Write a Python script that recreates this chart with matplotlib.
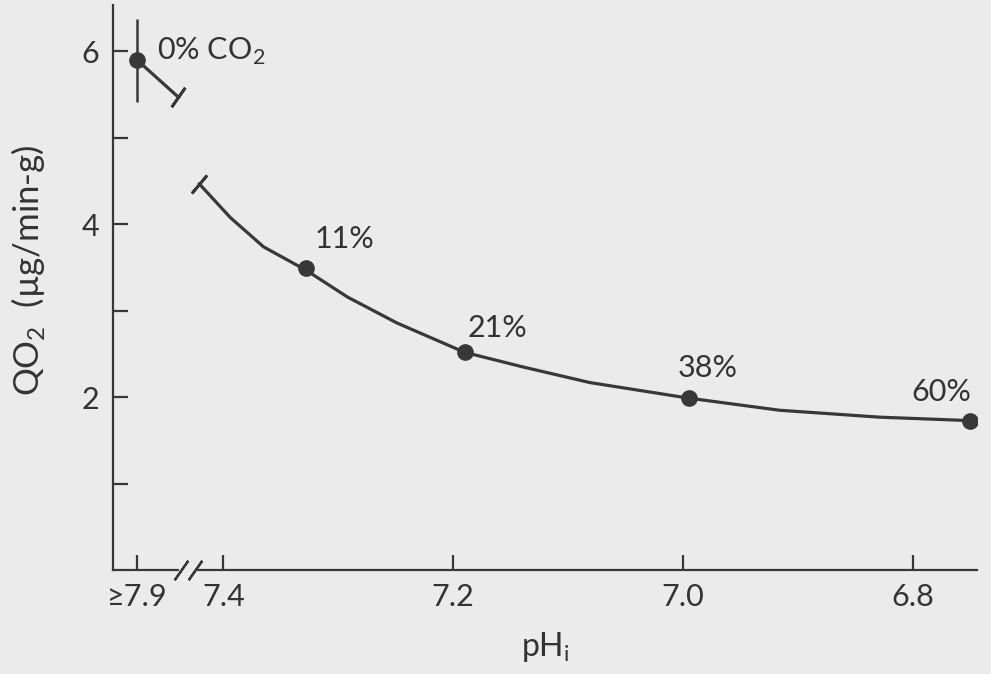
import matplotlib
matplotlib.use("Agg")
import matplotlib.pyplot as plt

# ------------------------------
# Data: QO2 vs internal pH at different CO2 levels
# ------------------------------
co2_labels = ["0% CO$_\\mathregular{2}$", "11%", "21%", "38%", "60%"]
ph_pos = [7.475, 7.328, 7.19, 6.995, 6.75]     # first one sits at the ">=7.9" slot
qo2 = [5.90, 3.49, 2.52, 1.99, 1.73]
qo2_err = 0.48                                   # error bar on the 0% point

# hand-drawn trend curve
curve_ph = [7.421, 7.394, 7.365, 7.328, 7.292, 7.249, 7.190,
            7.139, 7.081, 6.995, 6.916, 6.829, 6.750]
curve_qo2 = [4.47, 4.08, 3.74, 3.47, 3.16, 2.86, 2.52,
             2.35, 2.17, 1.99, 1.85, 1.77, 1.73]

# short stub leaving the 0% point before the break
stub_ph = [7.475, 7.439]
stub_qo2 = [5.90, 5.47]

xtick_pos = [7.475, 7.4, 7.2, 7.0, 6.8]
xtick_labels = ["\u22657.9", "7.4", "7.2", "7.0", "6.8"]
ytick_pos = [1, 2, 3, 4, 5, 6]
ytick_labels = ["", "2", "", "4", "", "6"]

# label offsets (points) from each dot
label_offsets = [(14, 0), (6.5, 15), (2, 11), (-8, 15), (-42.5, 14.4)]

# ------------------------------
# Style
# ------------------------------
BG = "#ebebeb"
INK = "#383838"
TXT = "#333333"
plt.rcParams["font.family"] = ["Lato", "DejaVu Sans"]
plt.rcParams["mathtext.fontset"] = "custom"
plt.rcParams["mathtext.rm"] = "Lato"

fig = plt.figure(figsize=(9.91, 6.74), dpi=100, facecolor=BG)
ax = fig.add_axes([0.114, 0.154, 0.872, 0.839], facecolor=BG)

# curve + stub
ax.plot(curve_ph, curve_qo2, color=INK, lw=2.3, solid_capstyle="round",
        solid_joinstyle="round")
ax.plot(stub_ph, stub_qo2, color=INK, lw=2.3)

# break caps at both loose ends
ax.plot(stub_ph[-1], stub_qo2[-1], marker=(2, 2, -35), ms=17, mew=2.0,
        color=INK, linestyle="none")
ax.plot(curve_ph[0], curve_qo2[0], marker=(2, 2, -40), ms=17, mew=2.0,
        color=INK, linestyle="none")

# error bar on 0%
ax.errorbar(ph_pos[0], qo2[0], yerr=qo2_err, fmt="none", ecolor=INK,
            elinewidth=1.8, capsize=0)

# data dots
ax.plot(ph_pos, qo2, "o", color=INK, ms=11, zorder=4)

for x, y, lab, off in zip(ph_pos, qo2, co2_labels, label_offsets):
    ax.annotate(lab, (x, y), xytext=off, textcoords="offset points",
                ha="left", va="baseline", fontsize=22, color=TXT)

# axes
ax.set_xlim(7.496, 6.744)
ax.set_ylim(0, 6.54)
for s in ["top", "right"]:
    ax.spines[s].set_visible(False)
for s in ["left", "bottom"]:
    ax.spines[s].set_color(INK)
    ax.spines[s].set_linewidth(1.6)

ax.set_xticks(xtick_pos)
ax.set_xticklabels(xtick_labels)
ax.set_yticks(ytick_pos)
ax.set_yticklabels(ytick_labels)
ax.tick_params(direction="in", length=11, width=1.6, color=INK,
               labelsize=22, labelcolor=TXT)
ax.tick_params(axis="x", pad=9)
ax.tick_params(axis="y", pad=10)

# axis break on the x axis
ax.plot([7.437, 7.425], [0, 0], color=BG, lw=3, zorder=3, clip_on=False)
ax.plot([7.437, 7.425], [0, 0], marker=(2, 2, -35), ms=17, mew=1.6,
        color=INK, linestyle="none", zorder=4, clip_on=False)

ax.set_xlabel("pH$_\\mathregular{i}$", fontsize=23, color=TXT, labelpad=14)
fig.text(28 / 991, 1 - 270 / 674, "QO$_\\mathregular{2}$  (\u00b5g/min-g)",
         rotation=90, ha="center", va="center", fontsize=25, color=TXT)

fig.savefig("out.png", dpi=100, facecolor=BG)
